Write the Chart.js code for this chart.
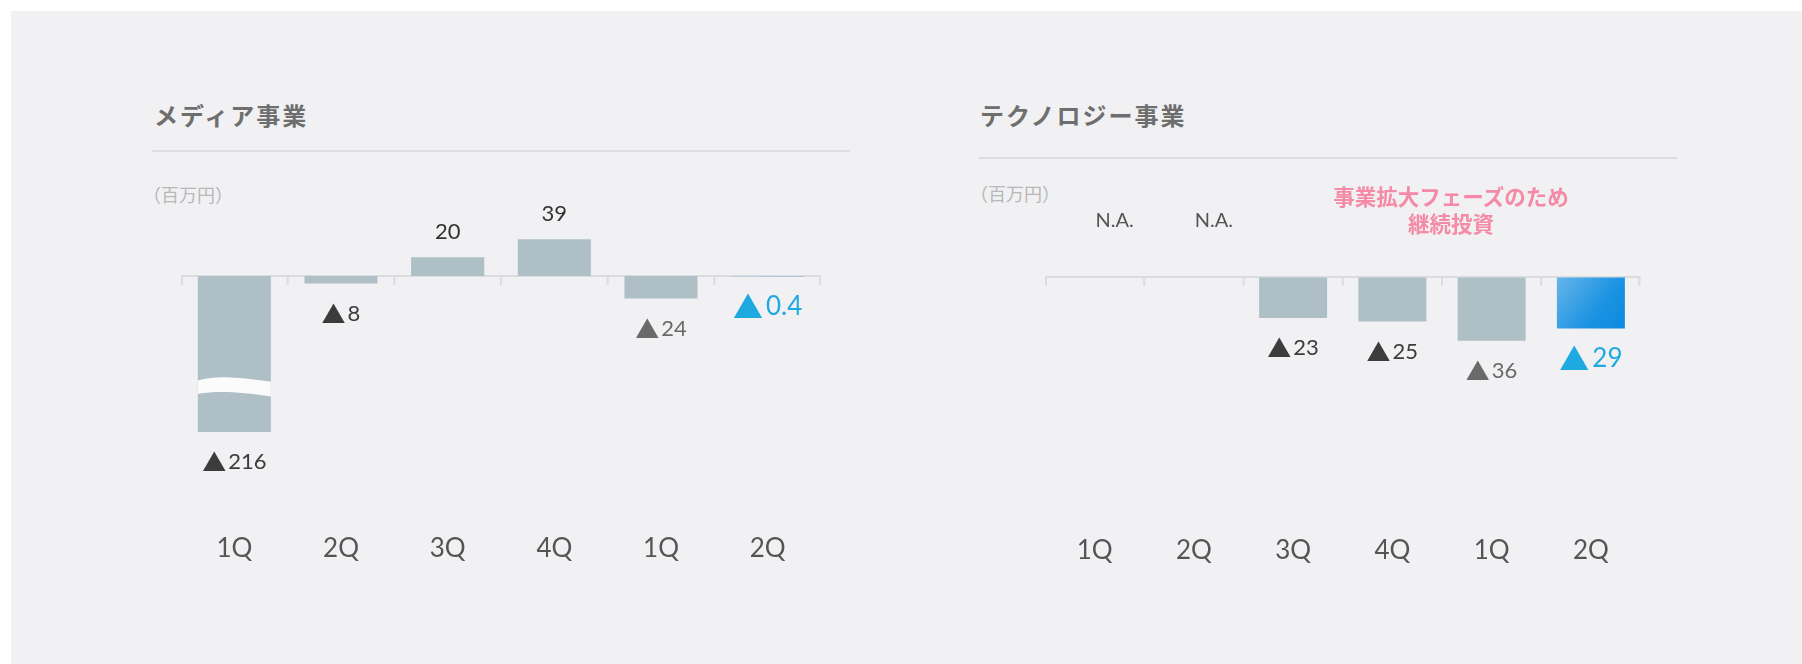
<!DOCTYPE html>
<html>
<head>
<meta charset="utf-8">
<script src="https://cdn.jsdelivr.net/npm/chart.js@4.4.1/dist/chart.umd.min.js"></script>
<style>
html,body{margin:0;padding:0;background:#ffffff;width:1802px;height:664px;overflow:hidden;font-family:'Noto Sans CJK JP',sans-serif}
#panel{position:absolute;left:11px;top:11px;width:1791px;height:653px;background:#f1f1f3}
.title{position:absolute;font-size:24px;font-weight:bold;color:#6e6e6e;letter-spacing:2px;line-height:30px;white-space:nowrap}
.sep{position:absolute;height:2px;background:#dedee0}
.unit{position:absolute;font-size:18px;color:#b8b8b8;line-height:24px;white-space:nowrap}
.note{position:absolute;font-size:21.5px;font-weight:bold;color:#f58aa7;line-height:26.5px;text-align:center;white-space:nowrap;width:300px}
canvas{position:absolute}
</style>
</head>
<body>
<div id="panel"></div>

<div class="title" style="left:154px;top:100px">メディア事業</div>
<div class="sep" style="left:152px;top:150px;width:698px"></div>
<div class="unit" style="left:143px;top:182px">（百万円）</div>

<div class="title" style="left:980px;top:100px">テクノロジー事業</div>
<div class="sep" style="left:979px;top:157px;width:698px"></div>
<div class="unit" style="left:970px;top:181px">（百万円）</div>

<canvas id="media" width="720" height="386" style="left:140px;top:180px"></canvas>
<canvas id="tech" width="690" height="386" style="left:1000px;top:180px"></canvas>

<div class="note" style="left:1301px;top:183px">事業拡大フェーズのため<br>継続投資</div>

<script>
// ---- data ----
const categories = ['1Q', '2Q', '3Q', '4Q', '1Q', '2Q'];
const mediaValues = [-216, -8, 20, 39, -24, -0.4];
const techValues = [null, null, -23, -25, -36, -29];
const naLabel = 'N.A.';

// ---- styles ----
const BAR = '#aebfc6';
const BLUE = '#1ea9e1';
const LATIN = 'Lato';
const CJK = "'Noto Sans CJK JP'";

function barColor(context) {
  const chart = context.chart;
  const n = chart.data.labels.length;
  const i = context.dataIndex;
  if (i !== n - 1) return BAR;
  const area = chart.chartArea;
  const xs = chart.scales.x, ys = chart.scales.y;
  if (!area || !xs || !ys) return '#3a9de6';
  const v = context.raw;
  const cx = xs.getPixelForValue(i);
  const half = (area.width / n) * 0.685 / 2;
  const y0 = ys.getPixelForValue(0);
  const y1 = ys.getPixelForValue(v);
  const g = chart.ctx.createLinearGradient(cx - half, Math.min(y0, y1), cx + half, Math.max(y0, y1) + 1);
  g.addColorStop(0, '#66b5ea');
  g.addColorStop(0.6, '#1d93e2');
  g.addColorStop(1, '#0a8ae0');
  return g;
}

const zeroAxis = {
  id: 'zeroAxis',
  beforeDatasetsDraw(chart) {
    const { ctx, chartArea: a } = chart;
    const y0 = Math.round(chart.scales.y.getPixelForValue(0));
    const n = chart.data.labels.length;
    const step = (a.right - a.left) / n;
    ctx.save();
    ctx.strokeStyle = '#dcdcde';
    ctx.lineWidth = 2;
    ctx.beginPath();
    ctx.moveTo(a.left, y0);
    ctx.lineTo(a.right, y0);
    for (let i = 0; i <= n; i++) {
      let xx = a.left + i * step;
      if (i === 0) xx += 1;
      if (i === n) xx -= 1;
      ctx.moveTo(xx, y0);
      ctx.lineTo(xx, y0 + 9);
    }
    ctx.stroke();
    ctx.restore();
  }
};

const axisBreak = {
  id: 'axisBreak',
  afterDatasetsDraw(chart, args, opts) {
    if (opts.value === undefined) return;
    const meta = chart.getDatasetMeta(0);
    const ys = chart.scales.y;
    const vals = chart.data.datasets[0].data;
    const ctx = chart.ctx;
    vals.forEach((v, i) => {
      if (v === null || v >= ys.min) return;
      const el = meta.data[i];
      const xl = el.x - el.width / 2, xr = el.x + el.width / 2, w = xr - xl;
      const c = ys.getPixelForValue(opts.value);
      ctx.save();
      ctx.fillStyle = '#fbfbfc';
      ctx.beginPath();
      ctx.moveTo(xl, c - 6);
      ctx.bezierCurveTo(xl + w * 0.3, c - 12, xl + w * 0.6, c - 8, xr, c - 5);
      ctx.lineTo(xr, c + 10);
      ctx.bezierCurveTo(xl + w * 0.6, c + 6, xl + w * 0.3, c + 4, xl, c + 7.5);
      ctx.closePath();
      ctx.fill();
      ctx.restore();
    });
  }
};

function labelColor(i, n) {
  if (i === n - 1) return BLUE;
  if (i === n - 2) return '#6a6a6a';
  return '#3c3c3c';
}

const valueLabels = {
  id: 'valueLabels',
  afterDatasetsDraw(chart) {
    const ctx = chart.ctx;
    const a = chart.chartArea;
    const xs = chart.scales.x, ys = chart.scales.y;
    const vals = chart.data.datasets[0].data;
    const n = vals.length;
    const y0 = ys.getPixelForValue(0);
    ctx.save();
    ctx.textBaseline = 'middle';
    vals.forEach((v, i) => {
      const cx = xs.getPixelForValue(i);
      if (v === null) {
        ctx.font = '20px ' + LATIN;
        ctx.fillStyle = '#555555';
        ctx.textAlign = 'center';
        ctx.fillText(naLabel, cx + 20, y0 - 57);
        return;
      }
      if (v >= 0) {
        ctx.font = '22px ' + LATIN;
        ctx.fillStyle = '#333333';
        ctx.textAlign = 'center';
        ctx.fillText(String(v), cx, ys.getPixelForValue(v) - 25);
        return;
      }
      const hl = i === n - 1;
      const end = Math.min(ys.getPixelForValue(v), a.bottom);
      const cy = end + 30;
      const triFont = (hl ? 30 : 24) + 'px ' + CJK;
      const numFont = (hl ? 26 : 22) + 'px ' + LATIN;
      const num = String(Math.abs(v));
      ctx.font = triFont;
      const tw = ctx.measureText('▲').width;
      ctx.font = numFont;
      const nw = ctx.measureText(num).width;
      const gap = hl ? 3 : 2;
      const total = tw + gap + nw;
      const left = cx - total / 2;
      ctx.fillStyle = labelColor(i, n);
      ctx.textAlign = 'left';
      ctx.font = triFont;
      ctx.fillText('▲', left, cy);
      ctx.font = numFont;
      ctx.fillText(num, left + tw + gap, cy);
    });
    ctx.restore();
  }
};

function makeChart(id, values, yMin, yMax, padL, padR, tickPad, breakValue) {
  return new Chart(document.getElementById(id), {
    type: 'bar',
    data: {
      labels: categories,
      datasets: [{
        data: values,
        backgroundColor: barColor,
        borderWidth: 0,
        barPercentage: 0.685,
        categoryPercentage: 1
      }]
    },
    options: {
      responsive: false,
      animation: false,
      devicePixelRatio: 1,
      events: [],
      layout: { padding: { left: padL, right: padR, top: 21, bottom: 0 } },
      plugins: {
        legend: { display: false },
        tooltip: { enabled: false },
        title: { display: false },
        axisBreak: { value: breakValue }
      },
      scales: {
        x: {
          grid: { display: false, drawTicks: false, tickLength: 0 },
          border: { display: false },
          ticks: {
            font: { family: LATIN, size: 26 },
            color: '#555555',
            padding: tickPad,
            maxRotation: 0,
            autoSkip: false
          },
          afterFit(axis) {
            axis.paddingLeft = 0;
            axis.paddingRight = 0;
            axis.height = 134;
          }
        },
        y: { display: false, min: yMin, max: yMax }
      }
    },
    plugins: [zeroAxis, axisBreak, valueLabels]
  });
}

makeChart('media', mediaValues, -166, 79.8, 41, 39, 101, -117.5);
makeChart('tech', techValues, -87.8, 43.4, 45, 49.5, 103, undefined);
</script>
</body>
</html>
